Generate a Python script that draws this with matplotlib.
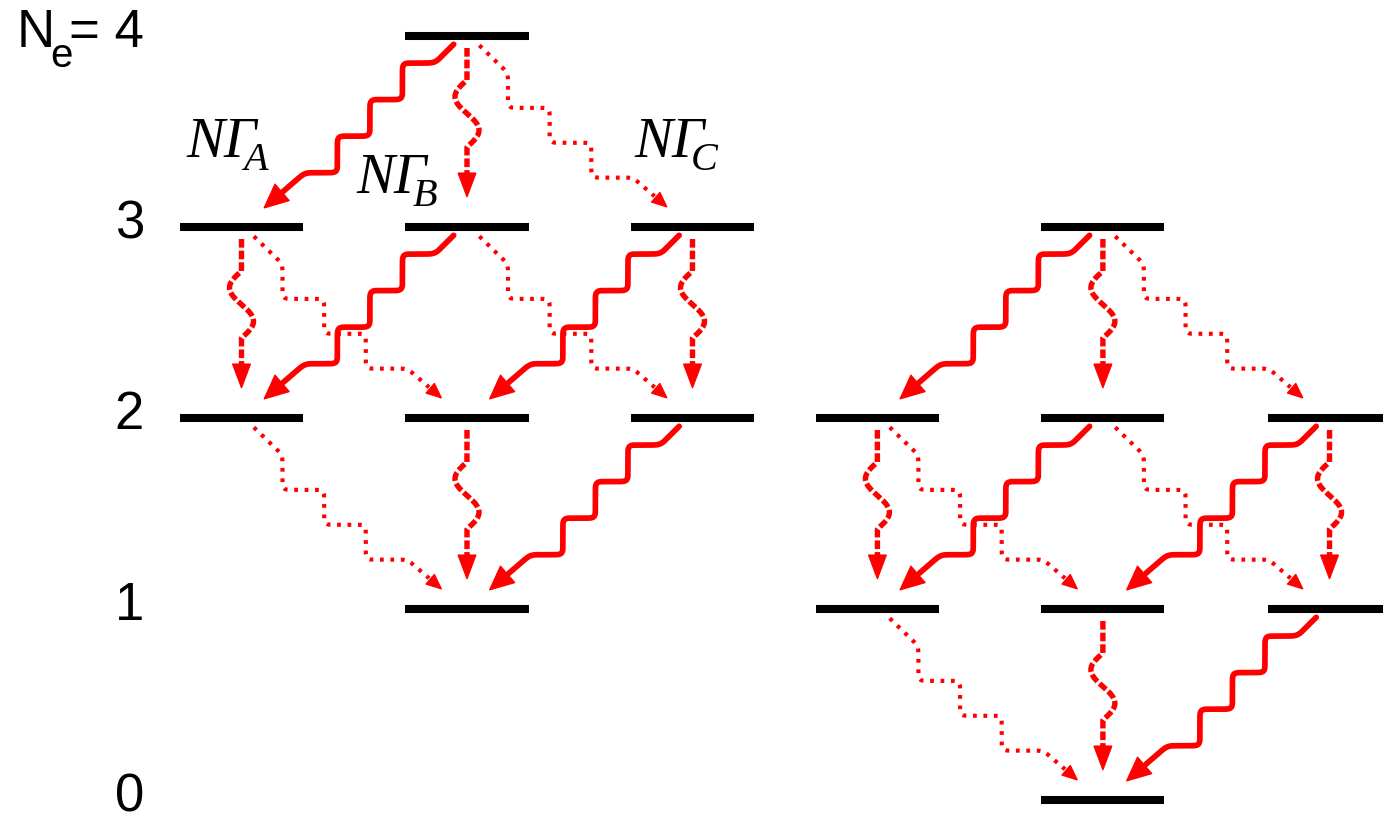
import numpy as np
import matplotlib.pyplot as plt
from matplotlib.patches import Polygon

# column positions of the level stacks (left diagram 0-2, right diagram 3-5)
col_x = [0, 1, 2, 2.82, 3.82, 4.825]

# energy levels: column and electron number N_e
level_col = [1, 0, 1, 2, 0, 1, 2, 1, 4, 3, 4, 5, 3, 4, 5, 4]
level_ne = [4, 3, 3, 3, 2, 2, 2, 1, 3, 2, 2, 2, 1, 1, 1, 0]

# decays: source column, source N_e, channel (A -> left, B -> straight, C -> right)
decay_col = [1, 1, 1, 0, 0, 1, 1, 2, 2, 0, 1, 2,
             4, 4, 4, 3, 3, 4, 4, 5, 5, 3, 4, 5]
decay_ne = [4, 4, 4, 3, 3, 3, 3, 3, 3, 2, 2, 2,
            3, 3, 3, 2, 2, 2, 2, 2, 2, 1, 1, 1]
decay_kind = ['A', 'B', 'C', 'B', 'C', 'A', 'C', 'A', 'B', 'C', 'B', 'A',
              'A', 'B', 'C', 'B', 'C', 'A', 'C', 'A', 'B', 'C', 'B', 'A']

ne_ticks = [4, 3, 2, 1, 0]
ne_labels = ['= 4', '3', '2', '1', '0']

gamma_sub = ['A', 'B', 'C']
gamma_x = [-0.245, 0.508, 1.742]
gamma_y = [3.366, 3.178, 3.366]

RED = '#ff0000'
W, H = 1383, 815

fig = plt.figure(figsize=(W / 100, H / 100), dpi=100)
ax = fig.add_axes([0, 0, 1, 1])
ax.set_xlim(-241.5 / 225.5, (W - 241.5) / 225.5)
ax.set_ylim(-15 / 191.0, 800 / 191.0)
ax.axis('off')

# levels
for c, n in zip(level_col, level_ne):
    ax.plot([col_x[c] - 0.273, col_x[c] + 0.273], [n, n], color='black',
            lw=5.8, solid_capstyle='butt', zorder=3)

to_px = ax.transData.transform
to_dat = ax.transData.inverted().transform


def resample(pts, step=1.0):
    seg = np.diff(pts, axis=0)
    s = np.concatenate([[0], np.cumsum(np.hypot(seg[:, 0], seg[:, 1]))])
    t = np.append(np.arange(0, s[-1], step), s[-1])
    return np.column_stack([np.interp(t, s, pts[:, 0]), np.interp(t, s, pts[:, 1])])


def smooth(pts, w=9):
    k = np.ones(w) / w
    pad = np.pad(pts, ((w // 2, w // 2), (0, 0)), mode='edge')
    return np.column_stack([np.convolve(pad[:, 0], k, 'valid'),
                            np.convolve(pad[:, 1], k, 'valid')])


# pixel geometry of each channel (offsets from level centre, y downwards)
style = {
    'A': dict(start=(-12, 7), tip=(-203, 172), lead=(-20, 20), steps='FRFRFRF',
              head=(24, 11), lw=4.1, ls='-'),
    'B': dict(start=(0, 12), tip=(0, 161), head=(24, 9), lw=3.9,
              ls=(0, (1.6, 0.55))),
    'C': dict(start=(11, 8), tip=(200, 171), lead=(30, 29), steps='RFRFRF',
              head=(15, 6.5), lw=3.0, ls=(0, (0.9, 1.6))),
}

for c, n, kind in zip(decay_col, decay_ne, decay_kind):
    st = style[kind]
    src = to_px((col_x[c], n))
    start = src + np.array([st['start'][0], -st['start'][1]])
    tip = src + np.array([st['tip'][0], -st['tip'][1]])
    vec = tip - start
    d = vec / np.hypot(*vec)
    base = tip - d * st['head'][0]
    if kind == 'B':
        # straight drop with one sideways wiggle in the middle
        depth = np.linspace(0, st['tip'][1] - st['head'][0] - st['start'][1], 200)
        xs = np.zeros_like(depth)
        a0, a1 = 32, 99
        m = (depth > a0) & (depth < a1)
        xs[m] = -12 * np.sin(2 * np.pi * (depth[m] - a0) / (a1 - a0))
        path = np.column_stack([start[0] + xs, start[1] - depth])
    else:
        # staircase (flat / riser) with rounded corners
        lead = np.array([st['lead'][0], -st['lead'][1]])
        lead_out = d * 30
        mid = base - start - lead - lead_out
        nf = st['steps'].count('F')
        nr = st['steps'].count('R')
        pts = [start, start + lead]
        p = start + lead
        for s in st['steps']:
            p = p + (np.array([mid[0] / nf, 0]) if s == 'F' else np.array([0, mid[1] / nr]))
            pts.append(p)
        pts.append(base)
        path = smooth(smooth(resample(np.array(pts)), 11), 7)
    path_d = to_dat(path)
    ax.plot(path_d[:, 0], path_d[:, 1], color=RED, lw=st['lw'], ls=st['ls'],
            solid_capstyle='round', dash_capstyle='butt', zorder=2)
    perp = np.array([-d[1], d[0]])
    hw = st['head'][1]
    head = np.array([tip, base + perp * hw, base - perp * hw])
    ax.add_patch(Polygon(to_dat(head), closed=True, facecolor=RED,
                         edgecolor=RED, lw=0.8, zorder=2))

# N_e labels
lab_x = (144 - 241.5) / 225.5
sans = 'Liberation Sans'
for n, lab in zip(ne_ticks, ne_labels):
    ax.annotate(lab, xy=(lab_x, n), xytext=(0, -8), textcoords='offset points',
                ha='right', va='baseline', fontsize=38, family=sans)
ax.annotate('N', xy=(lab_x, ne_ticks[0]), xytext=(-92, -8),
            textcoords='offset points', ha='left', va='baseline',
            fontsize=38, family=sans)
ax.annotate('e', xy=(lab_x, ne_ticks[0]), xytext=(-67.5, -22),
            textcoords='offset points', ha='left', va='baseline',
            fontsize=29, family=sans)

# channel labels N Gamma_X
serif = 'Liberation Serif'
for gx, gy, sub in zip(gamma_x, gamma_y, gamma_sub):
    ax.text(gx, gy, 'N\u0393', fontsize=41, family=serif, style='italic',
            ha='left', va='baseline')
    ax.annotate(sub, xy=(gx, gy), xytext=(41, -9.5), textcoords='offset points',
                fontsize=29, family=serif, style='italic', ha='left', va='baseline')

fig.savefig('out.png', dpi=100)
